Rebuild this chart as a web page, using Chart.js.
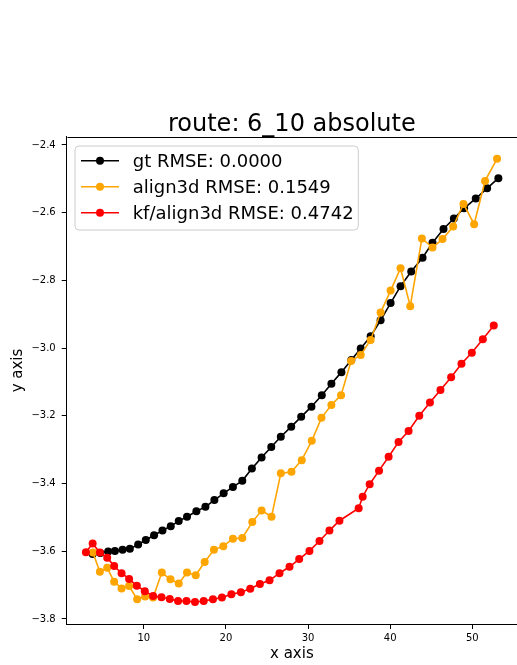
<!DOCTYPE html>
<html>
<head>
<meta charset="utf-8">
<script src="https://cdn.jsdelivr.net/npm/chart.js@4/dist/chart.umd.min.js"></script>
<style>
  html, body { margin: 0; padding: 0; background: #fff; overflow: hidden; }
  #wrap { width: 517px; height: 665px; }
</style>
</head>
<body>
<div id="wrap"><canvas id="c" width="517" height="665" style="width:517px;height:665px"></canvas></div>
<script>
// Route 6_10: trajectory positions (x, y) for ground truth and two estimators
const chartTitle = 'route: 6_10 absolute';
const xLabel = 'x axis';
const yLabel = 'y axis';
const seriesLabels = ['gt RMSE: 0.0000', 'align3d RMSE: 0.1549', 'kf/align3d RMSE: 0.4742'];
const seriesColors = ['#000000', '#ffa500', '#ff0000'];

const xTicks = [10, 20, 30, 40, 50];
const yTicks = [-3.8, -3.6, -3.4, -3.2, -3.0, -2.8, -2.6, -2.4];

const gtX = [3.77, 4.70, 5.66, 6.48, 7.41, 8.30, 9.31, 10.24, 11.25, 12.27, 13.28, 14.25, 15.26, 16.40, 17.50,
  18.59, 19.72, 20.85, 21.99, 23.16, 24.34, 25.52, 26.68, 27.95, 29.16, 30.41, 31.67, 32.84, 34.06, 35.27,
  36.41, 37.62, 38.83, 40.05, 41.26, 42.56, 43.94, 45.15, 46.49, 47.75, 49.00, 50.42, 51.80, 53.17];
const gtY = [-3.608, -3.605, -3.601, -3.599, -3.596, -3.593, -3.580, -3.567, -3.553, -3.539, -3.526, -3.511, -3.498,
  -3.482, -3.469, -3.449, -3.429, -3.410, -3.392, -3.356, -3.323, -3.292, -3.262, -3.232, -3.203, -3.173, -3.139,
  -3.105, -3.071, -3.035, -3.001, -2.965, -2.918, -2.867, -2.817, -2.774, -2.733, -2.689, -2.648, -2.617, -2.587,
  -2.558, -2.528, -2.498];

const alignX = [3.80, 4.65, 5.54, 6.39, 7.29, 8.21, 9.19, 10.16, 11.13, 12.19, 13.24, 14.25, 15.26, 16.32, 17.41,
  18.54, 19.68, 20.85, 21.99, 23.21, 24.34, 25.55, 26.68, 27.98, 29.23, 30.45, 31.63, 32.84, 34.02, 35.24,
  36.41, 37.62, 38.83, 40.05, 41.26, 42.44, 43.86, 45.15, 46.37, 47.67, 48.92, 50.22, 51.55, 53.01];
const alignY = [-3.604, -3.661, -3.649, -3.690, -3.710, -3.703, -3.742, -3.734, -3.737, -3.663, -3.683, -3.695,
  -3.663, -3.671, -3.632, -3.596, -3.585, -3.563, -3.561, -3.514, -3.480, -3.498, -3.370, -3.365, -3.331, -3.274,
  -3.206, -3.168, -3.139, -3.038, -3.020, -2.976, -2.895, -2.830, -2.764, -2.876, -2.676, -2.703, -2.678, -2.641,
  -2.574, -2.634, -2.506, -2.441];

const kfX = [2.95, 3.77, 4.65, 5.54, 6.39, 7.29, 8.21, 9.15, 10.12, 11.13, 12.15, 13.16, 14.17, 15.19, 16.23,
  17.29, 18.42, 19.51, 20.66, 21.82, 22.96, 24.13, 25.31, 26.52, 27.74, 28.92, 30.17, 31.39, 32.60, 33.82,
  36.16, 36.65, 37.50, 38.64, 39.81, 41.02, 42.24, 43.54, 44.84, 46.12, 47.42, 48.68, 49.94, 51.28, 52.61];
const kfY = [-3.603, -3.577, -3.604, -3.619, -3.644, -3.665, -3.682, -3.702, -3.718, -3.732, -3.736, -3.741,
  -3.747, -3.747, -3.750, -3.747, -3.742, -3.737, -3.727, -3.721, -3.711, -3.697, -3.686, -3.665, -3.646, -3.623,
  -3.599, -3.570, -3.539, -3.510, -3.473, -3.439, -3.402, -3.362, -3.321, -3.277, -3.245, -3.200, -3.161, -3.124,
  -3.086, -3.046, -3.014, -2.974, -2.933];

const FONT = "'DejaVu Sans', 'Liberation Sans', sans-serif";
const toPoints = (xs, ys) => xs.map((x, i) => ({ x: x, y: ys[i] }));
const seriesData = [toPoints(gtX, gtY), toPoints(alignX, alignY), toPoints(kfX, kfY)];

function makeDataset(i) {
  return {
    label: seriesLabels[i],
    data: seriesData[i],
    showLine: true,
    borderColor: seriesColors[i],
    backgroundColor: seriesColors[i],
    borderWidth: 1.6,
    pointRadius: 4,
    pointBorderWidth: 0,
    pointHoverRadius: 4,
    order: 3 - i
  };
}

// Title, top spine, legend box and rotated y label
const decorations = {
  id: 'decorations',
  afterDraw(chart) {
    const { ctx, chartArea: a } = chart;
    ctx.save();

    // top spine
    ctx.strokeStyle = '#000';
    ctx.lineWidth = 1;
    const ty = Math.round(a.top) + 0.5;
    ctx.beginPath();
    ctx.moveTo(Math.round(a.left) + 0.5, ty);
    ctx.lineTo(chart.width + 2, ty);
    ctx.stroke();

    // title centred over the plot area
    ctx.fillStyle = '#000';
    ctx.font = '24px ' + FONT;
    ctx.textAlign = 'center';
    ctx.textBaseline = 'alphabetic';
    ctx.fillText(chartTitle, (a.left + a.right) / 2, a.top - 6.2);

    // y axis label
    ctx.save();
    ctx.translate(21.5, 370.5);
    ctx.rotate(-Math.PI / 2);
    ctx.font = '15px ' + FONT;
    ctx.textAlign = 'center';
    ctx.fillText(yLabel, 0, 0);
    ctx.restore();

    // legend
    const bx = a.left + 8.3, by = a.top + 9.3, bw = 283.3, bh = 84, r = 4;
    ctx.beginPath();
    ctx.moveTo(bx + r, by);
    ctx.lineTo(bx + bw - r, by);
    ctx.arcTo(bx + bw, by, bx + bw, by + r, r);
    ctx.lineTo(bx + bw, by + bh - r);
    ctx.arcTo(bx + bw, by + bh, bx + bw - r, by + bh, r);
    ctx.lineTo(bx + r, by + bh);
    ctx.arcTo(bx, by + bh, bx, by + bh - r, r);
    ctx.lineTo(bx, by + r);
    ctx.arcTo(bx, by, bx + r, by, r);
    ctx.closePath();
    ctx.fillStyle = 'rgba(255,255,255,0.8)';
    ctx.fill();
    ctx.strokeStyle = '#cccccc';
    ctx.lineWidth = 1;
    ctx.stroke();

    ctx.font = '18px ' + FONT;
    ctx.textAlign = 'left';
    ctx.textBaseline = 'alphabetic';
    chart.data.datasets.forEach((ds, i) => {
      const cy = by + 14.7 + i * 26;
      ctx.strokeStyle = ds.borderColor;
      ctx.lineWidth = 1.6;
      ctx.beginPath();
      ctx.moveTo(bx + 6, cy);
      ctx.lineTo(bx + 44, cy);
      ctx.stroke();
      ctx.fillStyle = ds.backgroundColor;
      ctx.beginPath();
      ctx.arc(bx + 25, cy, 4, 0, Math.PI * 2);
      ctx.fill();
      ctx.fillStyle = '#000';
      ctx.fillText(ds.label, bx + 57.7, cy + 6.6);
    });

    ctx.restore();
  }
};

new Chart(document.getElementById('c'), {
  type: 'scatter',
  data: { datasets: [0, 1, 2].map(makeDataset) },
  options: {
    responsive: false,
    animation: false,
    events: [],
    layout: { autoPadding: false, padding: { top: 136.7, left: 0, right: -1, bottom: 0 } },
    plugins: {
      legend: { display: false },
      tooltip: { enabled: false },
      title: { display: false }
    },
    scales: {
      x: {
        type: 'linear',
        min: 0.61,
        max: 55.44,
        afterBuildTicks: s => { s.ticks = xTicks.map(v => ({ value: v })); },
        afterFit: s => { s.height = 41; },
        grid: { drawOnChartArea: false, drawTicks: true, tickLength: 5, color: '#000', tickWidth: 1 },
        border: { display: true, color: '#000', width: 1 },
        ticks: {
          color: '#000', padding: 3, maxRotation: 0, autoSkip: false,
          font: { family: FONT, size: 10 },
          callback: v => String(v)
        },
        title: {
          display: true, text: xLabel, color: '#000',
          font: { family: FONT, size: 15 },
          padding: { top: 0, bottom: 2.2 }
        }
      },
      y: {
        type: 'linear',
        min: -3.815,
        max: -2.3755,
        afterBuildTicks: s => { s.ticks = yTicks.map(v => ({ value: v })); },
        afterFit: s => { s.width = 66.7; },
        grid: { drawOnChartArea: false, drawTicks: true, tickLength: 5, color: '#000', tickWidth: 1 },
        border: { display: true, color: '#000', width: 1 },
        ticks: {
          color: '#000', padding: 6, autoSkip: false,
          font: { family: FONT, size: 10 },
          callback: v => v.toFixed(1).replace('-', '\u2212')
        },
        title: { display: false }
      }
    }
  },
  plugins: [decorations]
});
</script>
</body>
</html>
